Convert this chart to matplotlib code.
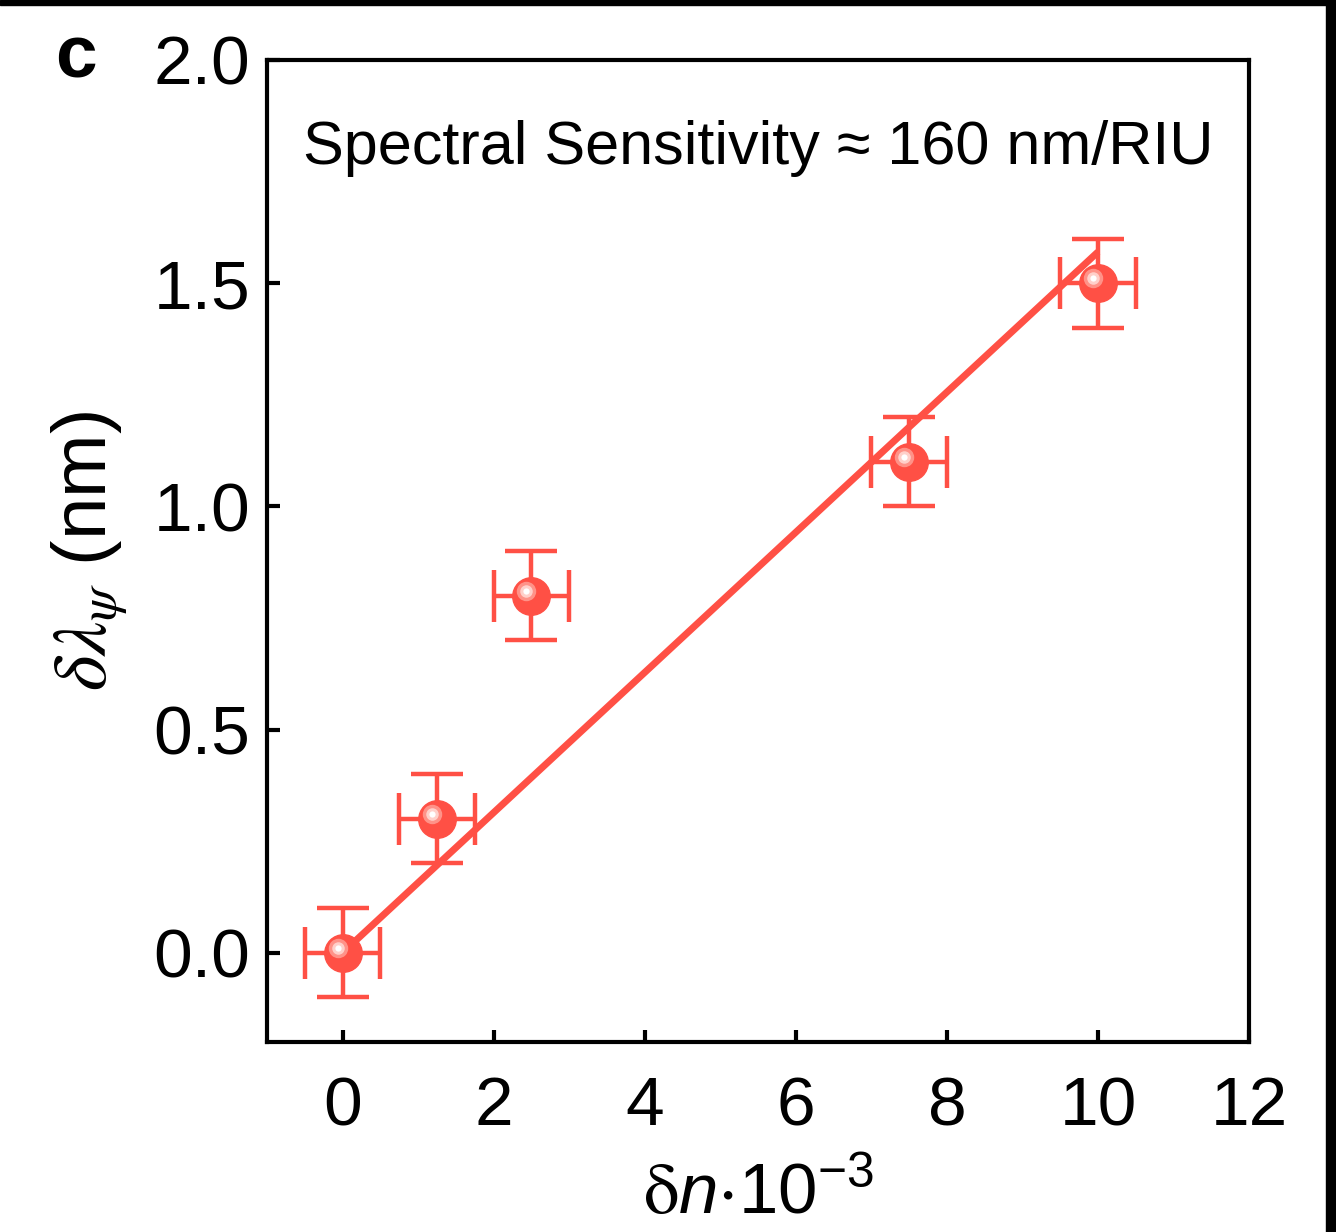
import matplotlib
matplotlib.use("Agg")
import matplotlib.pyplot as plt
import matplotlib.transforms as mtransforms
from matplotlib.patches import Rectangle

# ---- data ----
dn = [0.0, 1.25, 2.5, 7.5, 10.0]
dlam = [0.0, 0.3, 0.8, 1.1, 1.5]
dn_err = [0.5, 0.5, 0.5, 0.5, 0.5]
dlam_err = [0.1, 0.1, 0.1, 0.1, 0.1]
fit_x = [0.0, 10.0]
fit_y = [0.0, 1.57]
xticks = [0, 2, 4, 6, 8, 10, 12]
yticks = [0.0, 0.5, 1.0, 1.5, 2.0]
ytick_labels = ["0.0", "0.5", "1.0", "1.5", "2.0"]

RED = "#FF5045"

plt.rcParams['font.family'] = ['Liberation Sans', 'DejaVu Sans']
plt.rcParams['mathtext.fontset'] = 'custom'
plt.rcParams['mathtext.rm'] = 'STIXGeneral'
plt.rcParams['mathtext.it'] = 'Liberation Sans:italic'
plt.rcParams['mathtext.sf'] = 'Liberation Sans'

fig = plt.figure(figsize=(13.36, 12.32), dpi=100)
ax = fig.add_axes([0.1999, 0.1542, 0.7350, 0.7971])

ax.plot(fit_x, fit_y, color=RED, lw=5, solid_capstyle='butt', zorder=2)
ax.errorbar(dn, dlam, xerr=dn_err, yerr=dlam_err, fmt='o', color=RED,
            ms=27, mec=RED, mfc=RED, elinewidth=3.2, capsize=19, capthick=3.2,
            zorder=3)
# highlight on the spheres
off = mtransforms.ScaledTranslation(-5/100, 5/100, fig.dpi_scale_trans)
ax.plot(dn, dlam, 'o', ms=14, color='#FF9A90', mec='none', alpha=0.9,
        transform=ax.transData + off, zorder=4)
ax.plot(dn, dlam, 'o', ms=9, color='#FFD0CA', mec='none',
        transform=ax.transData + off, zorder=5)
ax.plot(dn, dlam, 'o', ms=4.5, color='#FFFFFF', mec='none',
        transform=ax.transData + off, zorder=6)

ax.set_xlim(-1, 12)
ax.set_ylim(-0.2, 2.0)
ax.set_xticks(xticks)
ax.set_yticks(yticks)
ax.set_yticklabels(ytick_labels)
ax.tick_params(direction='in', length=9, width=3, labelsize=50,
               top=False, right=False)
ax.tick_params(axis='x', pad=24)
ax.tick_params(axis='y', pad=12)
for s in ax.spines.values():
    s.set_linewidth(3)

ax.set_ylabel(r'$\delta\lambda_{\psi}$ (nm)', fontsize=55, math_fontfamily='stix',
              labelpad=18)
ax.set_xlabel(r'$\mathrm{\delta}\mathit{n}$$\cdot$10$^{\mathsf{-3}}$', fontsize=51,
              labelpad=16)

ax.text(0.5, 0.91, 'Spectral Sensitivity \u2248 160 nm/RIU',
        transform=ax.transAxes, ha='center', va='center', fontsize=44)

fig.text(0.057, 0.953, 'c', fontsize=54, fontweight='bold', ha='center', va='center')

# frame bands of the source image
fig.patches.append(Rectangle((0, 1 - 5/1232), 1, 5/1232, transform=fig.transFigure,
                             color='black', zorder=10))
fig.patches.append(Rectangle((1 - 10/1336, 0), 10/1336, 1, transform=fig.transFigure,
                             color='black', zorder=10))

fig.savefig('out.png', dpi=100)
